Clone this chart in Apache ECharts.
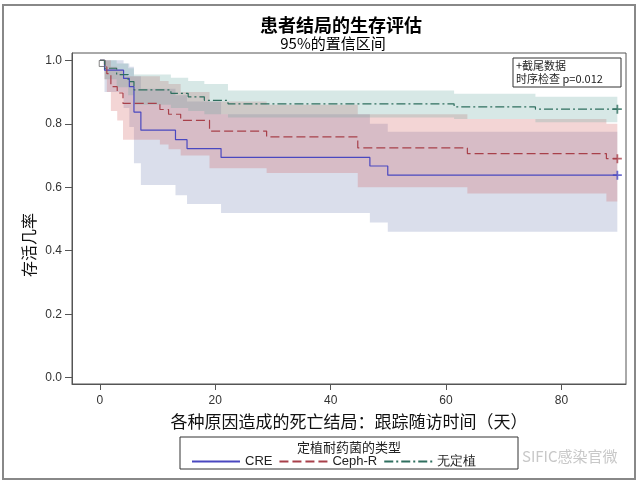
<!DOCTYPE html>
<html>
<head>
<meta charset="utf-8">
<script src="https://cdn.jsdelivr.net/npm/echarts@6/dist/echarts.min.js"></script>
<style>
  html, body { margin: 0; padding: 0; background: #fff; }
  #chart { width: 640px; height: 483px; }
</style>
</head>
<body>
<div id="chart"></div>
<script>
// 生存曲线数据
const groupNames = ['CRE', 'Ceph-R', '无定植'];

const creTime = [0, 0.8, 4.1, 5.1, 5.9, 7.1, 13.1, 15.1, 21, 46.8, 49.9, 89.7];
const creSurv = [1, 0.969, 0.943, 0.917, 0.837, 0.78, 0.75, 0.722, 0.694, 0.667, 0.638, 0.638];
const creLow = [1, 0.9, 0.85, 0.79, 0.676, 0.607, 0.575, 0.547, 0.519, 0.489, 0.46, 0.46];
const creHigh = [1, 1, 0.99, 0.98, 0.95, 0.91, 0.89, 0.87, 0.83, 0.8, 0.775, 0.775];

const cephTime = [0, 0.8, 1.2, 1.9, 3, 4, 10.4, 11.9, 14, 19, 28.9, 44.7, 63.7, 87.8, 89.7];
const cephSurv = [1, 0.979, 0.958, 0.917, 0.897, 0.864, 0.845, 0.83, 0.811, 0.777, 0.759, 0.724, 0.706, 0.69, 0.69];
const cephLow = [1, 0.94, 0.9, 0.84, 0.81, 0.75, 0.735, 0.72, 0.7, 0.66, 0.645, 0.6, 0.58, 0.555, 0.555];
const cephHigh = [1, 1, 1, 0.98, 0.97, 0.95, 0.935, 0.925, 0.9, 0.87, 0.86, 0.83, 0.815, 0.8, 0.8];

const noneTime = [0, 0.8, 2.9, 4.9, 5.9, 12.3, 15.3, 18.1, 22.2, 61.4, 75.5, 89.7];
const noneSurv = [1, 0.975, 0.955, 0.933, 0.907, 0.896, 0.885, 0.874, 0.863, 0.853, 0.846, 0.846];
const noneLow = [1, 0.94, 0.915, 0.89, 0.86, 0.85, 0.84, 0.83, 0.82, 0.815, 0.805, 0.805];
const noneHigh = [1, 1, 0.99, 0.975, 0.955, 0.945, 0.935, 0.925, 0.905, 0.895, 0.885, 0.885];

const startMark = [0.4, 0.99];
const xTicks = [0, 20, 40, 60, 80];
const yTicks = [0, 0.2, 0.4, 0.6, 0.8, 1.0];

const lineColors = ['#4a48c0', '#a8404a', '#2f6f5f'];
const bandColors = ['#6F7EB3', '#D05B5B', '#66A5A0'];
const lineTypes = ['solid', [9, 4], [9, 3, 2, 3]];

const zh = '"Noto Sans CJK SC", sans-serif';
const latin = '"Liberation Sans", Arial, sans-serif';

const zip = (xs, ys) => xs.map((x, i) => [x, ys[i]]);

// 置信区间：阶梯多边形
function bandSeries(name, xs, lo, hi, color) {
  return {
    type: 'custom',
    name: name,
    silent: true,
    z: 1,
    data: [[xs[0], lo[0]]],
    renderItem: function (params, api) {
      const pts = [];
      for (let i = 0; i < xs.length - 1; i++) {
        pts.push(api.coord([xs[i], hi[i]]), api.coord([xs[i + 1], hi[i]]));
      }
      for (let i = xs.length - 2; i >= 0; i--) {
        pts.push(api.coord([xs[i + 1], lo[i]]), api.coord([xs[i], lo[i]]));
      }
      return { type: 'polygon', shape: { points: pts }, style: { fill: color, opacity: 0.26 } };
    },
  };
}

function curveSeries(idx, xs, ys) {
  return {
    type: 'line',
    name: groupNames[idx],
    step: 'end',
    symbol: 'none',
    z: 3,
    data: zip(xs, ys),
    lineStyle: { color: lineColors[idx], width: 1.2, type: lineTypes[idx] },
    itemStyle: { color: lineColors[idx] },
  };
}

const plus = 'path://M4,0H6V4H10V6H6V10H4V6H0V4H4Z';
function censorSeries(idx, xs, ys) {
  return {
    type: 'scatter',
    name: groupNames[idx] + '-censor',
    symbol: plus,
    symbolSize: 9,
    z: 4,
    silent: true,
    data: [[xs[xs.length - 1], ys[ys.length - 1]]],
    itemStyle: { color: lineColors[idx] },
  };
}

const chart = echarts.init(document.getElementById('chart'));
const option = {
  animation: false,
  backgroundColor: '#fff',
  title: [
    {
      text: '患者结局的生存评估',
      left: 336, top: 11, textAlign: 'center',
      textStyle: { fontFamily: zh, fontSize: 18, fontWeight: 'bold', color: '#000' },
    },
    {
      text: '95%的置信区间',
      left: 328, top: 31, textAlign: 'center',
      textStyle: { fontFamily: zh, fontSize: 15, fontWeight: 'normal', color: '#000' },
    },
  ],
  grid: {
    left: 72, top: 53, right: 14, bottom: 99,
    show: true, borderColor: '#555', borderWidth: 1,
    outerBoundsMode: 'none',
  },
  legend: {
    data: groupNames,
    left: 186, top: 450,
    itemWidth: 48, itemHeight: 10, itemGap: 6,
    itemStyle: { opacity: 0 },
    textStyle: { fontFamily: latin, fontSize: 13, color: '#222' },
  },
  xAxis: {
    type: 'value',
    min: -4.84, max: 91.2,
    name: '各种原因造成的死亡结局：跟踪随访时间（天）',
    nameLocation: 'middle', nameGap: 29,
    nameTextStyle: { fontFamily: zh, fontSize: 17, color: '#111' },
    splitLine: { show: false },
    axisLine: { onZero: false, lineStyle: { color: '#555' } },
    axisTick: { show: true, length: 6, customValues: xTicks, lineStyle: { color: '#555' } },
    axisLabel: { customValues: xTicks, fontFamily: latin, fontSize: 12, color: '#333', margin: 11 },
  },
  yAxis: {
    type: 'value',
    min: -0.0198, max: 1.023,
    splitLine: { show: false },
    axisLine: { show: true, onZero: false, lineStyle: { color: '#555' } },
    axisTick: { show: true, length: 7, customValues: yTicks, lineStyle: { color: '#555' } },
    axisLabel: {
      customValues: yTicks, fontFamily: latin, fontSize: 12, color: '#333', margin: 10,
      formatter: v => v.toFixed(1),
    },
  },
  series: [
    bandSeries('CRE-CI', creTime, creLow, creHigh, bandColors[0]),
    bandSeries('Ceph-R-CI', cephTime, cephLow, cephHigh, bandColors[1]),
    bandSeries('无定植-CI', noneTime, noneLow, noneHigh, bandColors[2]),
    curveSeries(0, creTime, creSurv),
    curveSeries(1, cephTime, cephSurv),
    curveSeries(2, noneTime, noneSurv),
    censorSeries(0, creTime, creSurv),
    censorSeries(1, cephTime, cephSurv),
    censorSeries(2, noneTime, noneSurv),
    {
      type: 'scatter',
      name: 'start',
      symbol: 'rect',
      symbolSize: 6,
      z: 5,
      silent: true,
      data: [startMark],
      itemStyle: { color: 'rgba(0,0,0,0)', borderColor: '#666', borderWidth: 1 },
    },
  ],
  graphic: [
    // 外框
    { type: 'rect', shape: { x: 3, y: 5, width: 632, height: 474 }, style: { fill: 'none', stroke: '#888', lineWidth: 2 }, silent: true },
    // y 轴标题
    {
      type: 'text', x: 29, y: 245, rotation: Math.PI / 2,
      style: { text: '存活几率', fontFamily: zh, fontSize: 16, fill: '#111', textAlign: 'center', textVerticalAlign: 'middle' },
    },
    // 截尾说明框
    { type: 'rect', shape: { x: 513, y: 58, width: 108, height: 29 }, style: { fill: '#fff', stroke: '#333', lineWidth: 1 }, z: 10 },
    {
      type: 'text', x: 516, y: 66, z: 11,
      style: { text: '+截尾数据', fontFamily: zh, fontSize: 11, fill: '#222', textVerticalAlign: 'middle' },
    },
    {
      type: 'text', x: 516, y: 79, z: 11,
      style: { text: '时序检查 p=0.012', fontFamily: zh, fontSize: 11, fill: '#222', textVerticalAlign: 'middle' },
    },
    // 图例框
    { type: 'rect', shape: { x: 180, y: 437, width: 338, height: 32 }, style: { fill: 'none', stroke: '#333', lineWidth: 1 }, silent: true },
    {
      type: 'text', x: 349, y: 447,
      style: { text: '定植耐药菌的类型', fontFamily: zh, fontSize: 13, fill: '#222', textAlign: 'center', textVerticalAlign: 'middle' },
    },
    // 水印
    {
      type: 'text', x: 522, y: 456,
      style: { text: 'SIFIC感染官微', fontFamily: zh, fontSize: 15, fill: '#c8c8c8', textVerticalAlign: 'middle' },
    },
  ],
};
chart.setOption(option);
window.onresize = function () {
  chart.resize();
};
</script>
</body>
</html>
